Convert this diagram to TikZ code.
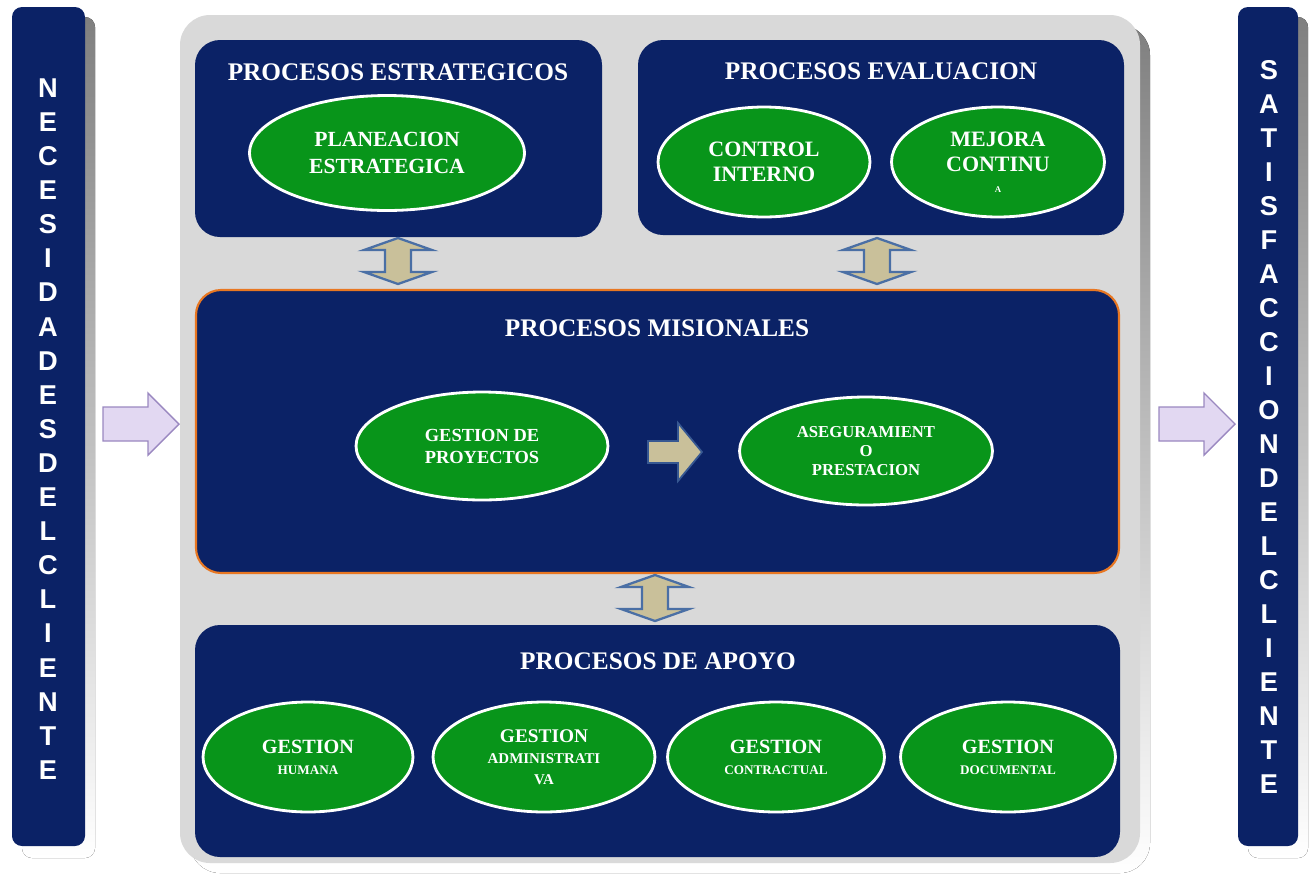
\documentclass[tikz,border=0pt]{standalone}
\usepackage{fontspec}
\setmainfont{Liberation Serif}
\newfontfamily\lsans{Liberation Sans}
\usetikzlibrary{shapes.geometric}
\definecolor{navy}{HTML}{0B2266}
\definecolor{leaf}{HTML}{08951A}
\definecolor{tan}{HTML}{C9C09A}
\definecolor{arrowblue}{HTML}{4A6FA5}
\definecolor{lav}{HTML}{E2D8F2}
\definecolor{lavline}{HTML}{9A88C0}
\definecolor{panel}{HTML}{D9D9D9}
\definecolor{shade}{HTML}{858585}
\definecolor{orangeline}{HTML}{E87722}
\tikzset{
  bluebox/.style={fill=navy, rounded corners=0.5cm},
  title/.style={text=white, font=\bfseries\fontsize{14.4}{16}\selectfont},
  oval/.style={ellipse, fill=leaf, draw=white, line width=1.6pt, text=white, align=center, inner sep=0pt},
  letter/.style={text=white, font=\lsans\bfseries\fontsize{15.5}{16}\selectfont, inner sep=0pt},
  pics/updown/.style={code={
    \filldraw[fill=tan, draw=arrowblue, line width=1.3pt, line join=miter]
      (0,-23) -- (34,-11) -- (13,-11) -- (13,11) -- (34,11) -- (0,23) -- (-34,11) -- (-13,11) -- (-13,-11) -- (-34,-11) -- cycle;}},
  pics/rightarrow/.style={code={
    \filldraw[fill=tan, draw=arrowblue!70!navy, line width=1pt]
      (-27,-11) -- (3,-11) -- (3,-29) -- (27,0) -- (3,29) -- (3,11) -- (-27,11) -- cycle;}},
  pics/lavarrow/.style={code={
    \filldraw[fill=lav, draw=lavline, line width=0.8pt]
      (-38,-17) -- (7,-17) -- (7,-31) -- (38,0) -- (7,31) -- (7,17) -- (-38,17) -- cycle;}}
}
\begin{document}
\begin{tikzpicture}[x=0.02cm,y=-0.02cm]
\useasboundingbox (0,0) rectangle (1309,873);
% side bars
\fill[shade, rounded corners=0.2cm] (22,17) rectangle (95,858);
\fill[navy, rounded corners=0.2cm] (12,7) rectangle (85,846);
\fill[shade, rounded corners=0.2cm] (1248,17) rectangle (1308,858);
\fill[navy, rounded corners=0.2cm] (1238,7) rectangle (1298,846);
% central panel
\fill[shade, rounded corners=0.6cm] (190,25) rectangle (1150,873);
\fill[panel, rounded corners=0.6cm] (180,15) rectangle (1140,863);
% letters
\foreach \c [count=\i] in {N,E,C,E,S,I,D,A,D,E,S,D,E,L,C,L,I,E,N,T,E}
  \node[letter] (nl\i) at (48,{88+34.1*(\i-1)}) {\c};
\foreach \c [count=\i] in {S,A,T,I,S,F,A,C,C,I,O,N,D,E,L,C,L,I,E,N,T,E}
  \node[letter] (sr\i) at (1269,{70+34*(\i-1)}) {\c};
% boxes
\fill[bluebox] (195,40) rectangle (602,237);
\fill[bluebox] (638,40) rectangle (1124,235);
\filldraw[bluebox, draw=orangeline, line width=1.2pt] (196,290) rectangle (1119,573);
\fill[bluebox] (195,625) rectangle (1120,857);
% titles
\node[title] (t1) at (398,72) {PROCESOS ESTRATEGICOS};
\node[title] (t2) at (881,71) {PROCESOS EVALUACION};
\node[title] (t3) at (657,328) {PROCESOS MISIONALES};
\node[title] (t4) at (658,661) {PROCESOS DE APOYO};
% ovals
\node[oval, minimum width=5.5cm, minimum height=2.3cm, font=\bfseries\fontsize{12.3}{15}\selectfont] (pe) at (387,153) {PLANEACION\\ESTRATEGICA};
\node[oval, minimum width=4.24cm, minimum height=2.2cm, font=\bfseries\fontsize{12.5}{14}\selectfont] (ci) at (764,162) {CONTROL\\INTERNO};
\node[oval, minimum width=4.26cm, minimum height=2.2cm, font=\bfseries\fontsize{12.5}{14}\selectfont] (mc) at (998,162) {MEJORA\\CONTINU\\[-2pt]{\fontsize{5}{5}\selectfont A}};
\node[oval, minimum width=5.04cm, minimum height=2.16cm, font=\bfseries\fontsize{10.5}{12.5}\selectfont] (gp) at (482,446) {GESTION DE\\PROYECTOS};
\node[oval, minimum width=5.06cm, minimum height=2.16cm, font=\bfseries\fontsize{9.5}{11}\selectfont] (ap) at (866,451) {ASEGURAMIENT\\O\\PRESTACION};
\node[oval, minimum width=4.2cm, minimum height=2.2cm] (gh) at (308,757) {{\bfseries\fontsize{11.5}{13}\selectfont GESTION}\\{\bfseries\fontsize{7.5}{9}\selectfont HUMANA}};
\node[oval, minimum width=4.44cm, minimum height=2.2cm] (ga) at (544,757) {{\bfseries\fontsize{11}{12}\selectfont GESTION}\\{\bfseries\fontsize{8.5}{9.5}\selectfont ADMINISTRATI}\\{\bfseries\fontsize{8.5}{9.5}\selectfont VA}};
\node[oval, minimum width=4.34cm, minimum height=2.2cm] (gc) at (776,757) {{\bfseries\fontsize{11.5}{13}\selectfont GESTION}\\{\bfseries\fontsize{7.5}{9}\selectfont CONTRACTUAL}};
\node[oval, minimum width=4.3cm, minimum height=2.2cm] (gd) at (1008,757) {{\bfseries\fontsize{11.5}{13}\selectfont GESTION}\\{\bfseries\fontsize{7.5}{9}\selectfont DOCUMENTAL}};
% arrows
\pic (a1) at (398,261) {updown};
\pic (a2) at (877,261) {updown};
\pic (a3) at (655,598) {updown};
\pic (a4) at (675,452) {rightarrow};
\pic (l1) at (141,424) {lavarrow};
\pic (l2) at (1197,424) {lavarrow};
\end{tikzpicture}
\end{document}
